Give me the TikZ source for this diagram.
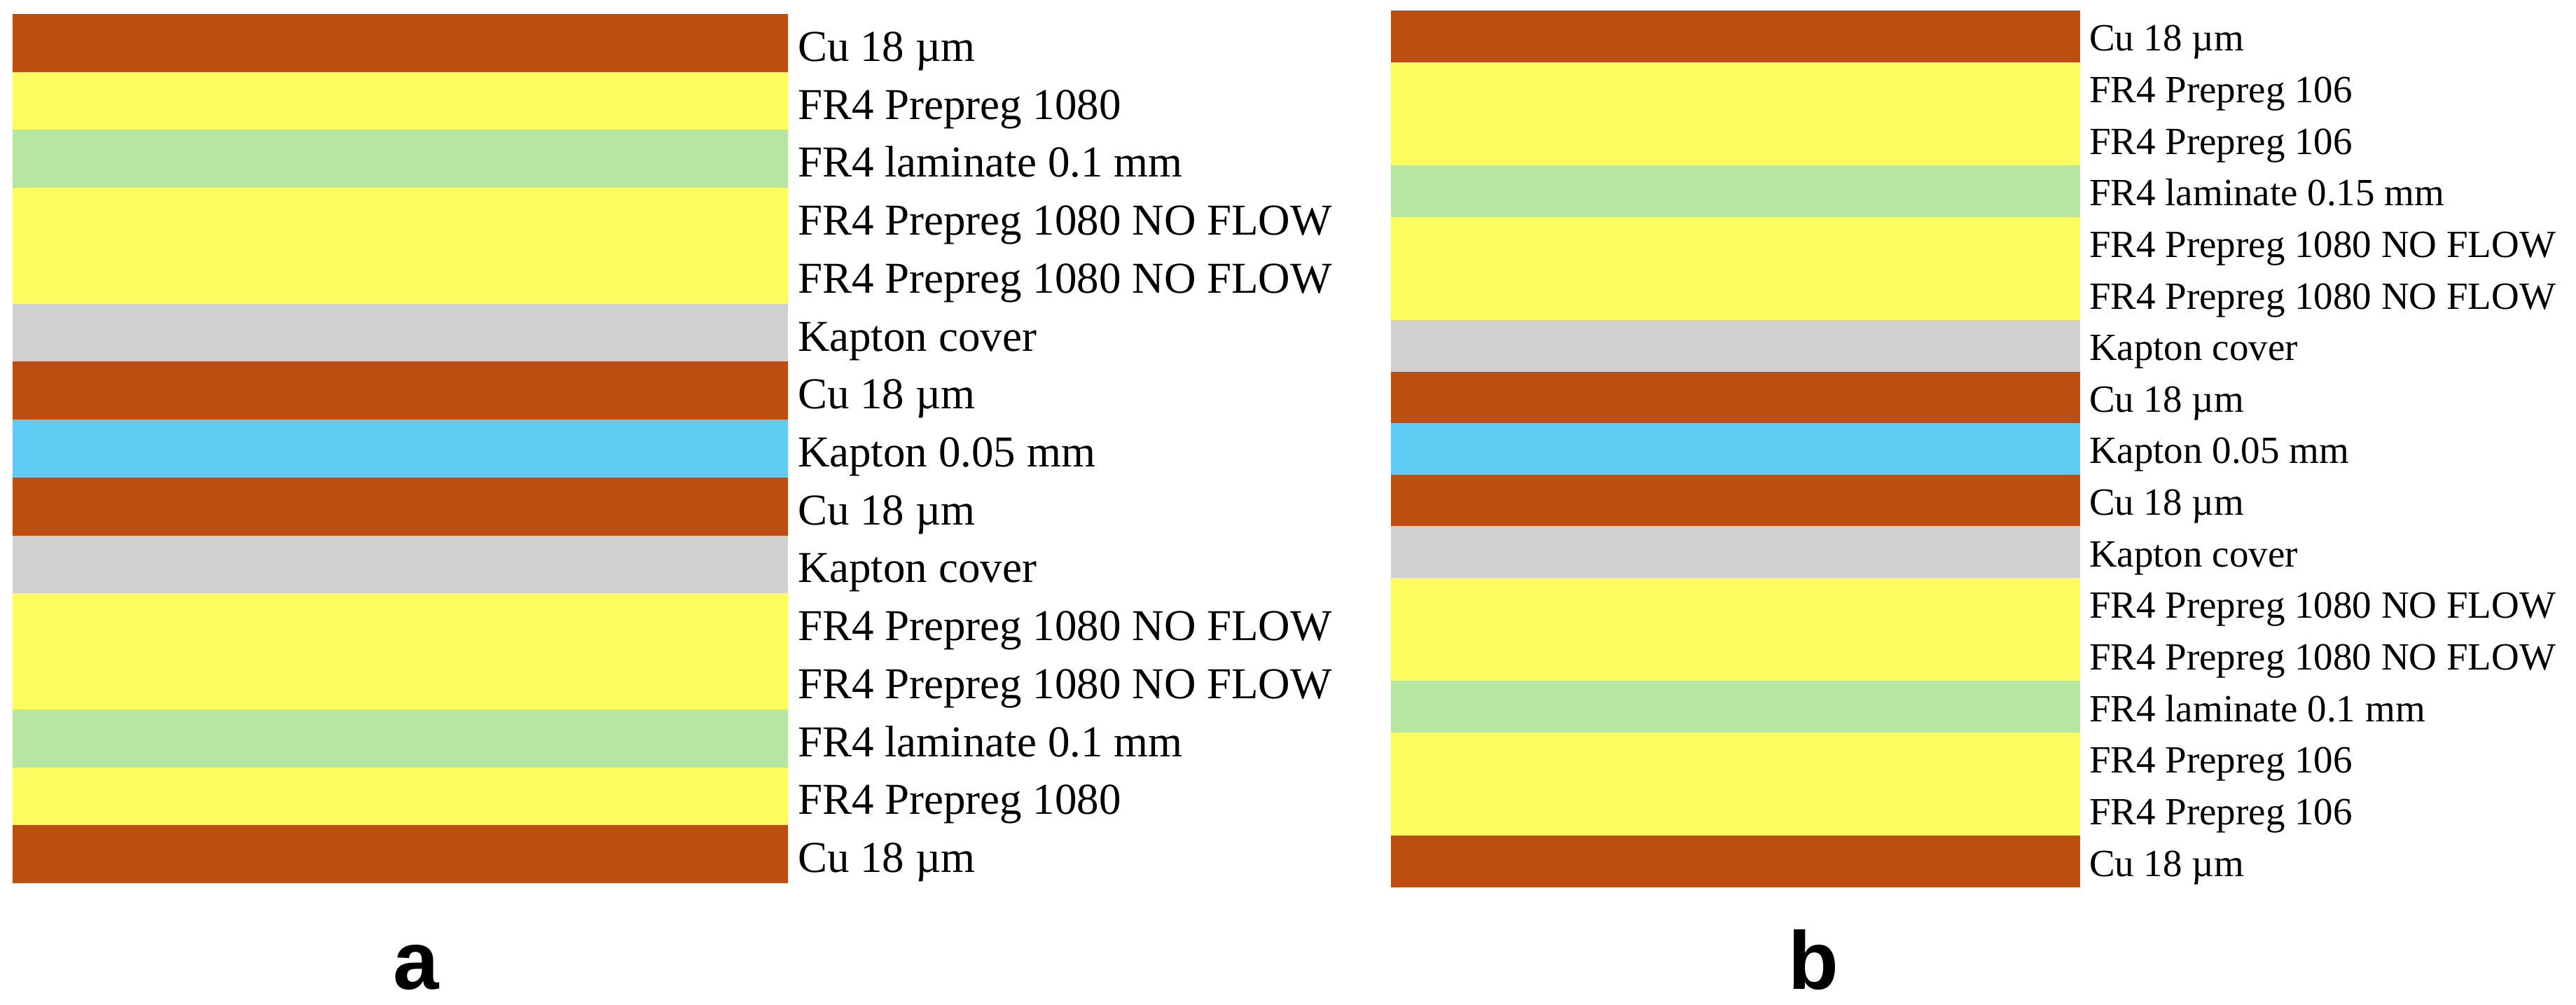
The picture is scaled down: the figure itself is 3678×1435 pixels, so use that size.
\documentclass[tikz,border=0pt]{standalone}
\usepackage{fontspec}
\setmainfont{Liberation Serif}
\newfontfamily\panelfont{Liberation Sans}
\definecolor{cuC}{RGB}{189,78,18}
\definecolor{ppC}{RGB}{255,252,98}
\definecolor{lamC}{RGB}{181,230,162}
\definecolor{kcC}{RGB}{208,208,208}
\definecolor{kapC}{RGB}{96,203,242}
\tikzset{
  lbla/.style={inner sep=0pt, anchor=base west, font=\fontsize{12.6pt}{15pt}\selectfont},
  lblb/.style={inner sep=0pt, anchor=base west, font=\fontsize{11pt}{13pt}\selectfont},
  panellbl/.style={inner sep=0pt, anchor=base, font=\panelfont\bfseries\fontsize{23.5pt}{28pt}\selectfont}
}
\begin{document}
\begin{tikzpicture}[x=0.2pt,y=-0.2pt]
\useasboundingbox (0,0) rectangle (3678,1435);
% panel a layers
\foreach \c/\s/\n in {cuC/0/1, ppC/1/1, lamC/2/1, ppC/3/2, kcC/5/1, cuC/6/1, kapC/7/1, cuC/8/1, kcC/9/1, ppC/10/2, lamC/12/1, ppC/13/1, cuC/14/1}{
  \fill[\c] (18,{20+\s*82.733}) rectangle (1125,{20+(\s+\n)*82.733});
}
% panel b layers
\foreach \c/\s/\n in {cuC/0/1, ppC/1/2, lamC/3/1, ppC/4/2, kcC/6/1, cuC/7/1, kapC/8/1, cuC/9/1, kcC/10/1, ppC/11/2, lamC/13/1, ppC/14/2, cuC/16/1}{
  \fill[\c] (1986,{15+\s*73.647}) rectangle (2970,{15+(\s+\n)*73.647});
}
% panel a labels
\foreach \t [count=\i from 0] in {Cu 18 µm, FR4 Prepreg 1080, FR4 laminate 0.1 mm, FR4 Prepreg 1080 NO FLOW, FR4 Prepreg 1080 NO FLOW, Kapton cover, Cu 18 µm, Kapton 0.05 mm, Cu 18 µm, Kapton cover, FR4 Prepreg 1080 NO FLOW, FR4 Prepreg 1080 NO FLOW, FR4 laminate 0.1 mm, FR4 Prepreg 1080, Cu 18 µm}{
  \node[lbla] (la\i) at (1138,{20+(\i+0.5)*82.733+26}) {\t};
}
% panel b labels
\foreach \t [count=\i from 0] in {Cu 18 µm, FR4 Prepreg 106, FR4 Prepreg 106, FR4 laminate 0.15 mm, FR4 Prepreg 1080 NO FLOW, FR4 Prepreg 1080 NO FLOW, Kapton cover, Cu 18 µm, Kapton 0.05 mm, Cu 18 µm, Kapton cover, FR4 Prepreg 1080 NO FLOW, FR4 Prepreg 1080 NO FLOW, FR4 laminate 0.1 mm, FR4 Prepreg 106, FR4 Prepreg 106, Cu 18 µm}{
  \node[lblb] (lb\i) at (2982,{15+(\i+0.5)*73.647+21}) {\t};
}
\node[panellbl] (pa) at (594,1412) {a};
\node[panellbl] (pb) at (2589,1412) {b};
\end{tikzpicture}
\end{document}
